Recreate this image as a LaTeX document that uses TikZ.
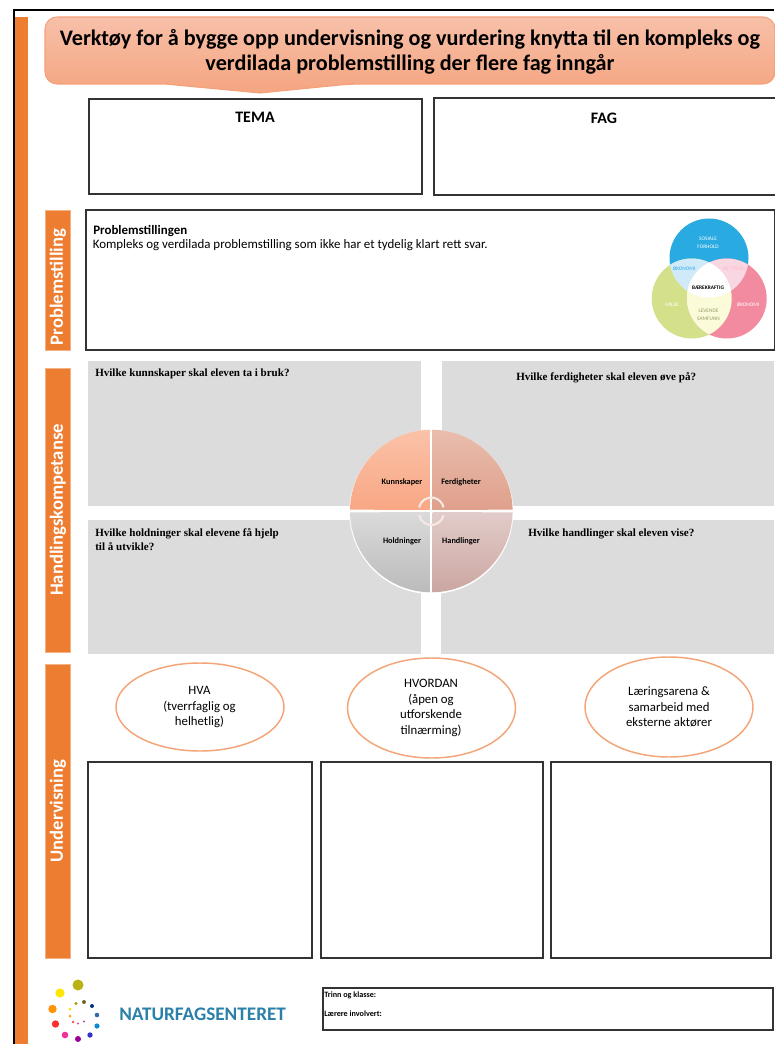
\documentclass[tikz,border=0pt]{standalone}
\usepackage{fontspec}
\setmainfont{Carlito}
\newfontfamily\serifq{Liberation Serif}
\definecolor{orng}{HTML}{ED7D31}
\definecolor{orngedge}{HTML}{F4B183}
\definecolor{panel}{HTML}{DCDCDC}
\definecolor{ringc}{HTML}{F3A578}
\definecolor{frameg}{HTML}{333333}
\definecolor{bantop}{HTML}{F7C0A9}
\definecolor{banbot}{HTML}{F5A580}
\definecolor{banline}{HTML}{F4A078}
\definecolor{vtop}{HTML}{29ABE2}
\definecolor{vleft}{HTML}{D4E18A}
\definecolor{vright}{HTML}{F38BA0}
\definecolor{vtl}{HTML}{D1EAFA}
\definecolor{vtr}{HTML}{F8D7E3}
\definecolor{vlr}{HTML}{FBFAD9}
\definecolor{qa}{HTML}{FAC2A9}
\definecolor{qb}{HTML}{F9A784}
\definecolor{qc}{HTML}{E9BDAE}
\definecolor{qd}{HTML}{DFA08B}
\definecolor{qe}{HTML}{DADADA}
\definecolor{qf}{HTML}{BBBBBB}
\definecolor{qg}{HTML}{E2CCC9}
\definecolor{qh}{HTML}{CBA6A1}
\definecolor{arcc}{HTML}{F6E8E3}
\definecolor{logotext}{HTML}{2A80A9}
\tikzset{
  sidebar/.style={fill=orng,draw=orngedge,line width=.5pt},
  sidelabel/.style={rotate=90,text=white,font=\bfseries\fontsize{14}{16}\selectfont,inner sep=0pt},
  outbox/.style={draw=frameg,line width=.85pt,fill=white},
  greypanel/.style={fill=panel},
  qtext/.style={font=\serifq\bfseries\fontsize{8.3}{10.4}\selectfont,anchor=north west,inner sep=0pt,align=left},
  ovalbox/.style={draw=ringc,line width=1.1pt,fill=white},
  ovaltext/.style={font=\fontsize{9.6}{11.6}\selectfont,align=center,inner sep=0pt},
  quadtext/.style={font=\bfseries\fontsize{6.2}{7}\selectfont,inner sep=0pt},
  venntext/.style={font=\fontsize{4}{6}\selectfont,align=center,inner sep=0pt},
  heading/.style={font=\bfseries\fontsize{12}{14}\selectfont,inner sep=0pt},
  smalltext/.style={font=\bfseries\fontsize{6.1}{7}\selectfont,anchor=west,inner sep=0pt}
}
\newcommand{\logodot}[4]{\fill[#4] (#1,#2) circle[radius=#3];}
\begin{document}
\begin{tikzpicture}[x=.75pt,y=-.75pt]
\useasboundingbox (0,0) rectangle (774,1044);
\fill[white] (0,0) rectangle (774,1044);
% page frame
\fill[black] (13,9.5) rectangle (774,11.5);
\fill[black] (13,9.5) rectangle (14.5,1044);
\fill[orng] (15,17) rectangle (28,1044);
% banner
\shade[top color=bantop,bottom color=banbot,draw=banline,line width=.8pt,rounded corners=9pt]
  (45,17) -- (775,17) -- (775,84) -- (350,84) [sharp corners] -- (260,93) -- (165,84) [rounded corners=9pt] -- (45,84) -- cycle;
\node[font=\bfseries\fontsize{16.65}{18.9}\selectfont,align=center,inner sep=0pt] (title) at (410,52)
  {Verktøy for å bygge opp undervisning og vurdering knytta til en kompleks og\\verdilada problemstilling der flere fag inngår};
% tema / fag
\draw[outbox] (89,99) rectangle (422,194);
\draw[outbox] (434,98) rectangle (776,195);
\node[heading] (tema) at (255,117) {TEMA};
\node[heading] (fag) at (604,118) {FAG};
% side labels
\draw[sidebar] (45,210) rectangle (70,350);
\node[sidelabel] (s1) at (58,287) {Problemstilling};
\draw[sidebar] (45,368) rectangle (70,652);
\node[sidelabel] (s2) at (58,510) {Handlingskompetanse};
\draw[sidebar] (45,664) rectangle (70,958);
\node[sidelabel] (s3) at (58,811) {Undervisning};
% problem box
\draw[outbox] (86,210) rectangle (775,350);
\node[font=\bfseries\fontsize{9.7}{11}\selectfont,anchor=west,inner sep=0pt] (ph) at (93,231) {Problemstillingen};
\node[font=\fontsize{9.7}{11}\selectfont,anchor=west,inner sep=0pt] (pt) at (92.5,245.5) {Kompleks og verdilada problemstilling som ikke har et tydelig klart rett svar.};
% venn
\fill[vtop] (709,258) circle[radius=39.5];
\fill[vleft] (691.7,298.5) circle[radius=40];
\fill[vright] (726.7,298.5) circle[radius=40];
\begin{scope}
  \clip (709,258) circle[radius=39.5];
  \fill[vtl] (691.7,298.5) circle[radius=40];
  \fill[vtr] (726.7,298.5) circle[radius=40];
\end{scope}
\begin{scope}
  \clip (691.7,298.5) circle[radius=40];
  \fill[vlr] (726.7,298.5) circle[radius=40];
  \clip (726.7,298.5) circle[radius=40];
  \fill[white] (709,258) circle[radius=39.5];
\end{scope}
\node[venntext,text=white] (v1) at (708,243) {SOSIALE\\FORHOLD};
\node[venntext,text=vtop] (v2) at (684,268.7) {ØKONOMI};
\node[venntext,text=vright!60!white] (v3) at (734,268.7) {RETTFERD};
\node[venntext,text=black,font=\bfseries\fontsize{4}{5}\selectfont] (v4) at (708,287.5) {BÆREKRAFTIG};
\node[venntext,text=white] (v5) at (672,305) {MILJØ};
\node[venntext,text=white] (v6) at (748,305) {ØKONOMI};
\node[venntext,text=vleft!70!black] (v7) at (708.5,315) {LEVENDE\\SAMFUNN};
% grey panels
\fill[greypanel] (88,361) rectangle (421,506);
\fill[greypanel] (442,361) rectangle (774,506);
\fill[greypanel] (88,520) rectangle (421,654);
\fill[greypanel] (441,520) rectangle (774,654);
\node[qtext] (q1) at (95,369) {Hvilke kunnskaper skal eleven ta i bruk?};
\node[qtext] (q2) at (516,372) {Hvilke ferdigheter skal eleven øve på?};
\node[qtext] (q3) at (95,528.5) {Hvilke holdninger skal elevene få hjelp\\til å utvikle?};
\node[qtext] (q4) at (528,528.5) {Hvilke handlinger skal eleven vise?};
% central circle
\fill[white] (431.3,512) circle[radius=82];
\begin{scope}[shift={(431.3,511)},yscale=-1]
  \shade[top color=qa,bottom color=qb] (-1.2,1.2) -- (179.1:81.3) arc[start angle=179.1,end angle=90.9,radius=81.3] -- cycle;
  \shade[top color=qc,bottom color=qd] (1.2,1.2) -- (89.1:81.3) arc[start angle=89.1,end angle=0.9,radius=81.3] -- cycle;
  \shade[top color=qe,bottom color=qf] (-1.2,-1.2) -- (180.9:81.3) arc[start angle=180.9,end angle=269.1,radius=81.3] -- cycle;
  \shade[top color=qg,bottom color=qh] (1.2,-1.2) -- (270.9:81.3) arc[start angle=270.9,end angle=359.1,radius=81.3] -- cycle;
  \draw[arcc,line width=1.6pt] (0,1)++(168:12.5) arc[start angle=168,end angle=12,radius=12.5];
  \draw[arcc,line width=1.6pt] (0,-1.5)++(192:12.5) arc[start angle=192,end angle=348,radius=12.5];
\end{scope}
\node[quadtext] (k) at (402,482) {Kunnskaper};
\node[quadtext] (f) at (461,482) {Ferdigheter};
\node[quadtext] (ho) at (402,541) {Holdninger};
\node[quadtext] (ha) at (461,541) {Handlinger};
% ovals
\draw[ovalbox] (200,707) ellipse[x radius=84,y radius=44];
\draw[ovalbox] (431.5,708) ellipse[x radius=84,y radius=50];
\draw[ovalbox] (669,707) ellipse[x radius=84,y radius=50];
\node[ovaltext] (o1) at (199.5,707) {HVA\\(tverrfaglig og\\helhetlig)};
\node[ovaltext] (o2) at (431,708) {HVORDAN\\(åpen og\\utforskende\\tilnærming)};
\node[ovaltext] (o3) at (669,707) {Læringsarena \&\\samarbeid med\\eksterne aktører};
% lower boxes
\draw[outbox] (88,762) rectangle (312,958);
\draw[outbox] (321,762) rectangle (543,958);
\draw[outbox] (551,762) rectangle (771,958);
% footer
\draw[outbox] (323,988) rectangle (773,1030);
\node[smalltext] (t1) at (324,995) {Trinn og klasse:};
\node[smalltext] (t2) at (324,1014) {Lærere involvert:};
% logo
\logodot{78}{985}{5.5}{yellow!55!olive!90!black}
\logodot{60}{993}{4.6}{yellow!90!orange}
\logodot{52.5}{1009}{4.2}{orange!85!yellow}
\logodot{55.5}{1024}{3.7}{red!75!pink}
\logodot{65}{1035}{3.3}{magenta!75!pink}
\logodot{78}{1039}{3}{violet!80!magenta}
\logodot{90}{1035}{2.7}{blue!60!gray}
\logodot{97}{1026}{2.6}{cyan!70!blue}
\logodot{97}{1015}{2.3}{cyan!50!blue!80!black}
\logodot{92}{1006}{2}{teal!60!blue!70!black}
\logodot{84}{1002}{2}{olive!70!black}
\logodot{76}{1003.5}{1.7}{olive!80!yellow}
\logodot{70}{1009}{1.5}{yellow!80!orange}
\logodot{70}{1016}{1.5}{orange!70!yellow}
\logodot{73}{1022}{1.3}{red!60!pink}
\logodot{78}{1023.5}{1.1}{magenta!70!pink}
\logodot{84}{1021.5}{1.1}{violet!60!pink}
\node[font=\bfseries\fontsize{14.4}{16}\selectfont,text=logotext,anchor=west,inner sep=0pt] (lg) at (119,1014) {NATURFAGSENTERET};
\end{tikzpicture}
\end{document}
